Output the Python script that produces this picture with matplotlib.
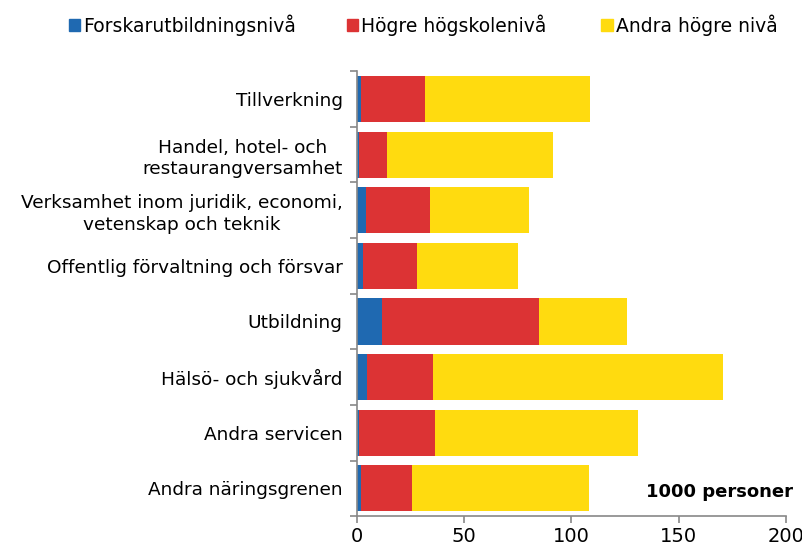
import numpy as np
import matplotlib.pyplot as plt
from matplotlib.patches import Patch

plt.rcParams['font.family'] = ['DejaVu Sans']

categories = ['Tillverkning', 'Handel, hotel- och\nrestaurangversamhet',
              'Verksamhet inom juridik, economi,\nvetenskap och teknik',
              'Offentlig förvaltning och försvar', 'Utbildning',
              'Hälsö- och sjukvård', 'Andra servicen', 'Andra näringsgrenen']
forskar = [2.1, 1.3, 4.3, 2.9, 11.7, 5.0, 1.3, 2.1]
hogre = [29.9, 12.7, 29.9, 25.4, 73.3, 30.8, 35.2, 23.9]
andra = [76.7, 77.6, 46.1, 46.9, 40.9, 134.8, 94.7, 82.1]
series_names = ['Forskarutbildningsnivå', 'Högre högskolenivå', 'Andra högre nivå']
colors = ['#1f69b1', '#dc3334', '#ffdb0f']

fig = plt.figure(figsize=(8.03, 5.52), dpi=100)
ax = fig.add_axes([0.444, 0.065, 0.535, 0.806])

y = np.arange(len(categories))
f = np.array(forskar)
h = np.array(hogre)
a = np.array(andra)
ax.barh(y, f, height=0.83, color=colors[0])
ax.barh(y, h, left=f, height=0.83, color=colors[1])
ax.barh(y, a, left=f + h, height=0.83, color=colors[2])

ax.set_ylim(len(categories) - 0.5, -0.5)
ax.set_xlim(0, 200)
ax.set_xticks([0, 50, 100, 150, 200])
ax.set_yticks(y)
ax.set_yticklabels(categories, fontsize=13.3, linespacing=1.25)
for lab in ax.get_yticklabels():
    lab.set_multialignment('center')
ax.tick_params(axis='y', length=0, pad=10)
ax.set_yticks(np.arange(-0.5, len(categories)), minor=True)
ax.tick_params(axis='y', which='minor', length=5, color='#888888', width=1.2)
ax.tick_params(axis='x', length=5, color='#888888', width=1.2, labelsize=14, pad=3)
for s in ['top', 'right']:
    ax.spines[s].set_visible(False)
for s in ['left', 'bottom']:
    ax.spines[s].set_color('#888888')
    ax.spines[s].set_linewidth(1.2)

ax.text(1.015, 0.035, '1000 personer', transform=ax.transAxes, ha='right',
        va='bottom', fontsize=13, fontweight='bold')

# legend entries placed one by one, the original has uneven gaps
leg_x = [0.086, 0.432, 0.749]
for name, c, lx in zip(series_names, colors, leg_x):
    leg = fig.legend([Patch(color=c)], [name], loc='center left',
                     bbox_to_anchor=(lx, 0.955), frameon=False, fontsize=13.5,
                     handlelength=0.6, handleheight=0.6, handletextpad=0.15,
                     borderpad=0, borderaxespad=0)

fig.savefig('out.png', dpi=100)
